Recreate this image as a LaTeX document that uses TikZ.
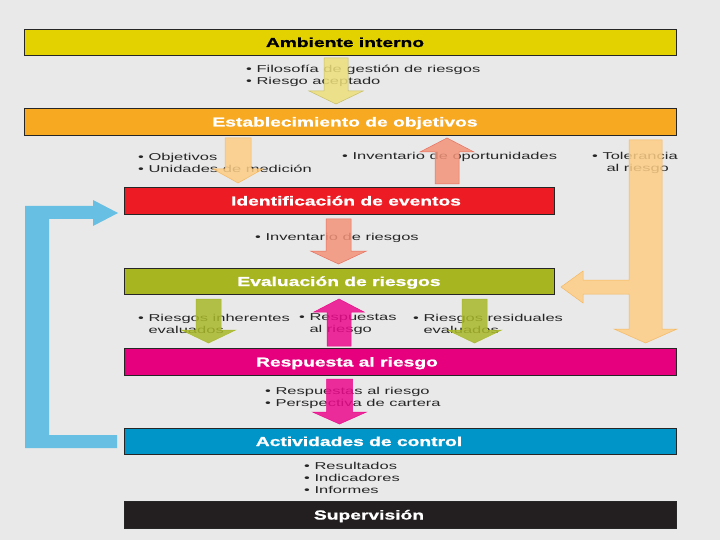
\documentclass[tikz,border=0pt]{standalone}
\usepackage{fontspec}
\setmainfont{Liberation Sans}
\newfontfamily\ttlfont[FakeStretch=1.48, FakeBold=1.2]{Liberation Sans Bold}
\newfontfamily\bltfont[FakeStretch=1.65]{Liberation Sans}
\definecolor{bg}{HTML}{E9E9E9}
\definecolor{cyel}{HTML}{E3D200}
\definecolor{cora}{HTML}{F8A922}
\definecolor{cred}{HTML}{ED1C24}
\definecolor{cgrn}{HTML}{A7B521}
\definecolor{cmag}{HTML}{E6007E}
\definecolor{cblu}{HTML}{0095C9}
\definecolor{cblk}{HTML}{231F20}
\definecolor{ayel}{HTML}{EDE07A}
\definecolor{aora}{HTML}{FDCD85}
\definecolor{aoraD}{HTML}{F5B860}
\definecolor{asal}{HTML}{F39379}
\definecolor{asalD}{HTML}{E8705F}
\definecolor{agrn}{HTML}{A9B82A}
\definecolor{amag}{HTML}{EC0A8C}
\definecolor{ablu}{HTML}{68BFE4}
\tikzset{
  box/.style={draw=black!85, line width=0.8pt, inner sep=0pt},
  ttl/.style={font=\ttlfont\fontsize{13}{15}\selectfont, inner sep=0pt, anchor=base},
  blt/.style={font=\bltfont\fontsize{10}{12}\selectfont, inner sep=0pt, align=left, anchor=west, text=black!85},
  barr/.style={fill opacity=0.85, line width=0.5pt}
}
% vertical down arrow: style, xc, ytop, ytip, half shaft, half head, head length
\newcommand{\darr}[7]{%
  \path[#1] ({#2-#5},#3) -- ({#2+#5},#3) -- ({#2+#5},{#4-#7}) -- ({#2+#6},{#4-#7}) -- (#2,#4) -- ({#2-#6},{#4-#7}) -- ({#2-#5},{#4-#7}) -- cycle;}
% vertical up arrow: style, xc, ybottom, ytip, half shaft, half head, head length
\newcommand{\uarr}[7]{%
  \path[#1] ({#2-#5},#3) -- ({#2+#5},#3) -- ({#2+#5},{#4+#7}) -- ({#2+#6},{#4+#7}) -- (#2,#4) -- ({#2-#6},{#4+#7}) -- ({#2-#5},{#4+#7}) -- cycle;}
\newcommand{\bl}{\textbullet\ }
\begin{document}
\begin{tikzpicture}[x=1pt,y=-1pt]
\fill[bg] (0,0) rectangle (720,540);
\useasboundingbox (0,0) rectangle (720,540);

% boxes
\node[box, fill=cyel, minimum width=652pt, minimum height=26pt] (amb) at (350,42) {};
\node[box, fill=cora, minimum width=652pt, minimum height=27pt] (est) at (350,121.5) {};
\node[box, fill=cred, minimum width=430pt, minimum height=27pt] (ide) at (339,200.5) {};
\node[box, fill=cgrn, minimum width=430pt, minimum height=26pt] (eva) at (339,281) {};
\node[box, fill=cmag, minimum width=552pt, minimum height=27pt] (res) at (400,361.5) {};
\node[box, fill=cblu, minimum width=552pt, minimum height=26pt] (act) at (400,441) {};
\node[box, fill=cblk, minimum width=552pt, minimum height=27pt] (sup) at (400,514.5) {};

% titles
\node[ttl, text=black] (tamb) at (345,47) {Ambiente interno};
\node[ttl, text=white] (test) at (345,126.5) {Establecimiento de objetivos};
\node[ttl, text=white] (tide) at (346,205.5) {Identificación de eventos};
\node[ttl, text=white] (teva) at (339,286) {Evaluación de riesgos};
\node[ttl, text=white] (tres) at (347,366.5) {Respuesta al riesgo};
\node[ttl, text=white] (tact) at (359,446) {Actividades de control};
\node[ttl, text=white] (tsup) at (369,519.5) {Supervisión};

% bullet texts
\node[blt] (b1) at (246,75.5) {\bl Filosofía de gestión de riesgos\\\bl Riesgo aceptado};
\node[blt] (b2) at (138,162.5) {\bl Objetivos\\\bl Unidades de medición};
\node[blt] (b3) at (342,156.5) {\bl Inventario de oportunidades};
\node[blt] (b4) at (592,162.5) {\bl Tolerancia\\\hphantom{\bl}\hspace{4pt}al riesgo};
\node[blt] (b5) at (255,238) {\bl Inventario de riesgos};
\node[blt] (b6) at (138,324) {\bl Riesgos inherentes\\\hphantom{\bl}evaluados};
\node[blt] (b7) at (299,324) {\bl Respuestas\\\hphantom{\bl}al riesgo};
\node[blt] (b8) at (413,324) {\bl Riesgos residuales\\\hphantom{\bl}evaluados};
\node[blt] (b9) at (265,398) {\bl Respuestas al riesgo\\\bl Perspectiva de cartera};
\node[blt] (b10) at (304,478) {\bl Resultados\\\bl Indicadores\\\bl Informes};

% block arrows
\darr{barr, fill=ayel, draw=ayel!85!black}{336}{58}{104}{12}{27}{13}
\darr{barr, fill=aora, draw=aoraD}{238}{138}{183}{13}{25}{14}
\uarr{barr, fill=asal, draw=asalD}{447}{184}{138}{12}{27}{14}
\darr{barr, fill=asal, draw=asalD}{338.5}{219}{264}{12.5}{28}{13}
\darr{barr, fill=agrn, draw=agrn}{208.5}{299}{343}{12.5}{27}{13}
\darr{barr, fill=agrn, draw=agrn}{474.5}{299}{343}{12.5}{27}{13}
\uarr{barr, fill=amag, draw=amag}{339}{346}{299}{12}{25}{13}
\darr{barr, fill=amag, draw=amag}{339.5}{379}{424}{13}{27}{12}

% tolerance arrow (down with branch to the left)
\path[barr, fill=aora, draw=aoraD]
  (629,140) -- (662,140) -- (662,329) -- (677,329) -- (645.5,343) -- (614,329) -- (629,329)
  -- (629,294) -- (583,294) -- (583,303) -- (561,287) -- (583,271) -- (583,280) -- (629,280) -- cycle;

% feedback arrow (blue)
\path[fill=ablu]
  (25,206) -- (93,206) -- (93,200) -- (118,213) -- (93,226) -- (93,219) -- (49,219)
  -- (49,435) -- (117,435) -- (117,448) -- (25,448) -- cycle;
\end{tikzpicture}
\end{document}
